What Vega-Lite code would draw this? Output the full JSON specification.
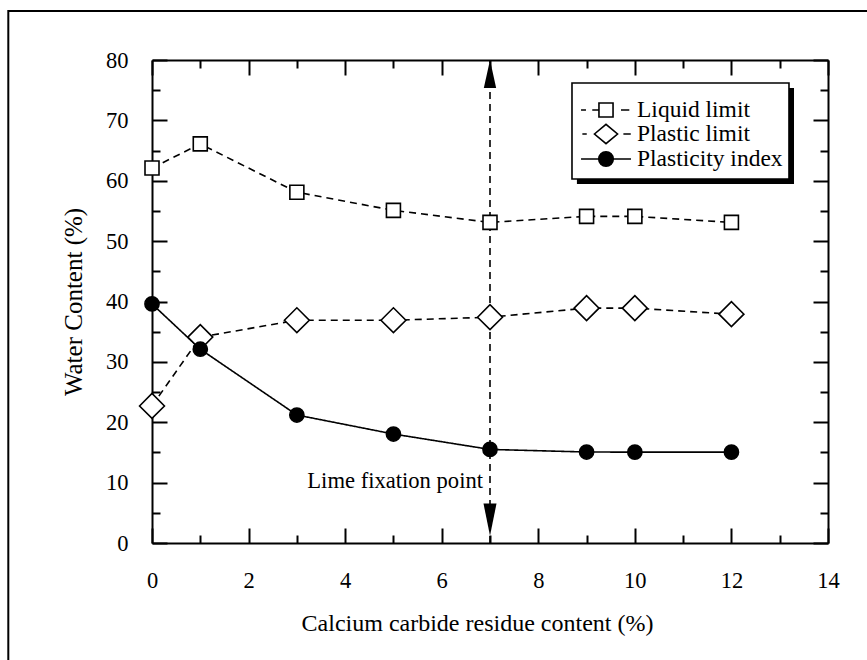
{
  "$schema": "https://vega.github.io/schema/vega-lite/v6.json",
  "width": 676,
  "height": 483,
  "autosize": {"type": "none"},
  "padding": {"left": 152, "top": 60, "right": 39, "bottom": 117},
  "background": "white",
  "config": {
    "view": {"stroke": null},
    "font": "Liberation Serif",
    "axis": {
      "grid": false,
      "domainColor": "black",
      "domainWidth": 2,
      "tickColor": "black",
      "tickWidth": 2,
      "labelFont": "Liberation Serif",
      "labelFontSize": 22.5,
      "labelColor": "black",
      "titleFont": "Liberation Serif",
      "titleFontWeight": "normal",
      "titleColor": "black"
    }
  },
  "resolve": {
    "axis": {"x": "independent", "y": "independent"},
    "scale": {"shape": "independent", "fill": "independent", "stroke": "independent"}
  },
  "datasets": {
    "main": [
      {"series": "Liquid limit", "x": 0, "y": 62.1},
      {"series": "Liquid limit", "x": 1, "y": 66.1},
      {"series": "Liquid limit", "x": 3, "y": 58.1},
      {"series": "Liquid limit", "x": 5, "y": 55.1},
      {"series": "Liquid limit", "x": 7, "y": 53.1},
      {"series": "Liquid limit", "x": 9, "y": 54.1},
      {"series": "Liquid limit", "x": 10, "y": 54.1},
      {"series": "Liquid limit", "x": 12, "y": 53.1},
      {"series": "Plastic limit", "x": 0, "y": 22.7},
      {"series": "Plastic limit", "x": 1, "y": 34.1},
      {"series": "Plastic limit", "x": 3, "y": 36.9},
      {"series": "Plastic limit", "x": 5, "y": 36.9},
      {"series": "Plastic limit", "x": 7, "y": 37.4},
      {"series": "Plastic limit", "x": 9, "y": 38.9},
      {"series": "Plastic limit", "x": 10, "y": 38.9},
      {"series": "Plastic limit", "x": 12, "y": 37.9},
      {"series": "Plasticity index", "x": 0, "y": 39.6},
      {"series": "Plasticity index", "x": 1, "y": 32.1},
      {"series": "Plasticity index", "x": 3, "y": 21.2},
      {"series": "Plasticity index", "x": 5, "y": 18.05},
      {"series": "Plasticity index", "x": 7, "y": 15.5},
      {"series": "Plasticity index", "x": 9, "y": 15.07},
      {"series": "Plasticity index", "x": 10, "y": 15.05},
      {"series": "Plasticity index", "x": 12, "y": 15.05}
    ]
  },
  "layer": [
    {
      "data": {"values": [{"part": "shadow"}]},
      "mark": {"type": "rect", "fill": "black", "clip": false},
      "encoding": {
        "x": {"datum": 8.8, "type": "quantitative", "scale": {"domain": [0, 14], "nice": false, "zero": false}, "axis": null},
        "x2": {"datum": 13.296},
        "y": {"datum": 75.36, "type": "quantitative", "scale": {"domain": [0, 80], "nice": false}, "axis": null},
        "y2": {"datum": 59.46}
      }
    },
    {
      "data": {"values": [{"part": "box"}]},
      "mark": {"type": "rect", "fill": "white", "stroke": "black", "strokeWidth": 1.6, "clip": false},
      "encoding": {
        "x": {"datum": 8.698, "type": "quantitative", "scale": {"domain": [0, 14], "nice": false, "zero": false}, "axis": null},
        "x2": {"datum": 13.192},
        "y": {"datum": 76.19, "type": "quantitative", "scale": {"domain": [0, 80], "nice": false}, "axis": null},
        "y2": {"datum": 60.29}
      }
    },
    {
      "data": {"values": [{"part": "frame"}]},
      "mark": {"type": "rect", "fill": null, "fillOpacity": 0, "stroke": "black", "strokeWidth": 2, "clip": false},
      "encoding": {
        "x": {"datum": -2.976, "type": "quantitative", "scale": {"domain": [0, 14], "nice": false, "zero": false}, "axis": null},
        "x2": {"datum": 16.5},
        "y": {"datum": 88.12, "type": "quantitative", "scale": {"domain": [0, 80], "nice": false}, "axis": null},
        "y2": {"datum": -25}
      }
    },
    {
      "data": {"name": "main"},
      "mark": {"type": "line", "stroke": "black", "strokeWidth": 1.6},
      "encoding": {
        "x": {
          "field": "x", "type": "quantitative",
          "scale": {"domain": [0, 14], "nice": false, "zero": false},
          "axis": {
            "orient": "bottom", "values": [0, 2, 4, 6, 8, 10, 12, 14],
            "tickSize": -15, "labelPadding": 41, "labelFlush": false,
            "title": "Calcium carbide residue content (%)", "titleFontSize": 24, "titlePadding": 20, "titleX": 325
          }
        },
        "y": {
          "field": "y", "type": "quantitative",
          "scale": {"domain": [0, 80], "nice": false},
          "axis": {
            "orient": "left", "values": [0, 10, 20, 30, 40, 50, 60, 70, 80],
            "tickSize": -15, "labelPadding": 39, "labelFlush": false,
            "title": "Water Content (%)", "titleFontSize": 25, "titlePadding": 19
          }
        },
        "strokeDash": {
          "field": "series", "type": "nominal",
          "scale": {"domain": ["Plasticity index", "Liquid limit", "Plastic limit"], "range": [[1, 0], [7, 5], [7, 5]]},
          "legend": null
        }
      }
    },
    {
      "data": {"values": [{"x": 7, "y1": 0, "y2": 80}]},
      "mark": {"type": "rule", "stroke": "black", "strokeWidth": 1.6, "strokeDash": [7, 5]},
      "encoding": {
        "x": {
          "field": "x", "type": "quantitative",
          "scale": {"domain": [0, 14], "nice": false, "zero": false},
          "axis": {
            "orient": "bottom", "values": [1, 3, 5, 7, 9, 11, 13],
            "tickSize": -8, "labels": false, "domain": false, "title": null
          }
        },
        "y": {
          "field": "y1", "type": "quantitative",
          "scale": {"domain": [0, 80], "nice": false},
          "axis": {
            "orient": "left", "values": [5, 15, 25, 35, 45, 55, 65, 75],
            "tickSize": -8, "labels": false, "domain": false, "title": null
          }
        },
        "y2": {"field": "y2"}
      }
    },
    {
      "data": {"values": [{"x": 7, "y": 80}]},
      "mark": {"type": "point", "shape": "M0,0L-0.88,4L0.88,4Z", "size": 196, "filled": true, "fill": "black", "stroke": null, "opacity": 1},
      "encoding": {
        "x": {
          "field": "x", "type": "quantitative",
          "scale": {"domain": [0, 14], "nice": false, "zero": false},
          "axis": {
            "orient": "top", "values": [0, 2, 4, 6, 8, 10, 12, 14],
            "tickSize": -15, "labels": false, "domain": true, "title": null
          }
        },
        "y": {
          "field": "y", "type": "quantitative",
          "scale": {"domain": [0, 80], "nice": false},
          "axis": {
            "orient": "right", "values": [0, 10, 20, 30, 40, 50, 60, 70, 80],
            "tickSize": -15, "labels": false, "domain": true, "title": null
          }
        }
      }
    },
    {
      "data": {"values": [{"x": 7, "y": 1.2}]},
      "mark": {"type": "point", "shape": "M0,0L-0.93,-4.6L0.93,-4.6Z", "size": 196, "filled": true, "fill": "black", "stroke": null, "opacity": 1},
      "encoding": {
        "x": {
          "field": "x", "type": "quantitative",
          "scale": {"domain": [0, 14], "nice": false, "zero": false},
          "axis": {
            "orient": "top", "values": [1, 3, 5, 7, 9, 11, 13],
            "tickSize": -8, "labels": false, "domain": false, "title": null
          }
        },
        "y": {
          "field": "y", "type": "quantitative",
          "scale": {"domain": [0, 80], "nice": false},
          "axis": {
            "orient": "right", "values": [5, 15, 25, 35, 45, 55, 65, 75],
            "tickSize": -8, "labels": false, "domain": false, "title": null
          }
        }
      }
    },
    {
      "data": {"name": "main"},
      "mark": {"type": "point", "stroke": "black", "strokeWidth": 1.6, "opacity": 1, "filled": false},
      "encoding": {
        "x": {"field": "x", "type": "quantitative", "scale": {"domain": [0, 14], "nice": false, "zero": false}, "axis": null},
        "y": {"field": "y", "type": "quantitative", "scale": {"domain": [0, 80], "nice": false}, "axis": null},
        "shape": {
          "field": "series", "type": "nominal",
          "scale": {"domain": ["Plasticity index", "Liquid limit", "Plastic limit"], "range": ["circle", "square", "diamond"]},
          "legend": null
        },
        "fill": {
          "field": "series", "type": "nominal",
          "scale": {"domain": ["Plasticity index", "Liquid limit", "Plastic limit"], "range": ["black", "white", "white"]},
          "legend": null
        },
        "size": {
          "field": "series", "type": "nominal",
          "scale": {"type": "ordinal", "domain": ["Plasticity index", "Liquid limit", "Plastic limit"], "range": [200, 196, 620]},
          "legend": null
        }
      }
    },
    {
      "data": {"name": "main"},
      "transform": [{"filter": "false"}],
      "mark": {"type": "point", "filled": true, "opacity": 1, "strokeWidth": 1.6},
      "encoding": {
        "x": {"field": "x", "type": "quantitative", "scale": {"domain": [0, 14], "nice": false, "zero": false}, "axis": null},
        "y": {"field": "y", "type": "quantitative", "scale": {"domain": [0, 80], "nice": false}, "axis": null},
        "shape": {
          "field": "series", "type": "nominal",
          "scale": {
            "domain": ["Liquid limit", "Plastic limit", "Plasticity index"],
            "range": [
              "M-2.27,0H-1.82M-1.25,0H-0.64M1.36,0H2.12M-0.64,-0.64H0.64V0.64H-0.64Z",
              "M-2.15,0H-1.75M1.58,0H2.25M-1.05,0L0,-0.88L1.05,0L0,0.88Z",
              "M-2.27,0H2.27M-0.66,0A0.66,0.66 0 1,1 0.66,0A0.66,0.66 0 1,1 -0.66,0Z"
            ]
          },
          "legend": {
            "orient": "none",
            "legendX": 429,
            "legendY": 38,
            "zindex": 10,
            "title": null,
            "padding": 0,
            "symbolSize": 484,
            "symbolOffset": 13,
            "symbolOpacity": 1,
            "symbolStrokeWidth": 1.6,
            "labelFont": "Liberation Serif",
            "labelFontSize": 23.5,
            "labelColor": "black",
            "labelOffset": 19,
            "labelLimit": 400,
            "rowPadding": -6.4
          }
        },
        "fill": {
          "field": "series", "type": "nominal",
          "scale": {"domain": ["Liquid limit", "Plastic limit", "Plasticity index"], "range": ["white", "white", "black"]}
        },
        "stroke": {
          "field": "series", "type": "nominal",
          "scale": {"domain": ["Liquid limit", "Plastic limit", "Plasticity index"], "range": ["black", "black", "black"]}
        }
      }
    },
    {
      "data": {"values": [{"x": 7, "y": 9.1, "label": "Lime fixation point"}]},
      "mark": {"type": "text", "align": "right", "baseline": "alphabetic", "dx": -7, "font": "Liberation Serif", "fontSize": 22.6, "color": "black"},
      "encoding": {
        "x": {"field": "x", "type": "quantitative", "scale": {"domain": [0, 14], "nice": false, "zero": false}, "axis": null},
        "y": {"field": "y", "type": "quantitative", "scale": {"domain": [0, 80], "nice": false}, "axis": null},
        "text": {"field": "label"}
      }
    }
  ]
}
